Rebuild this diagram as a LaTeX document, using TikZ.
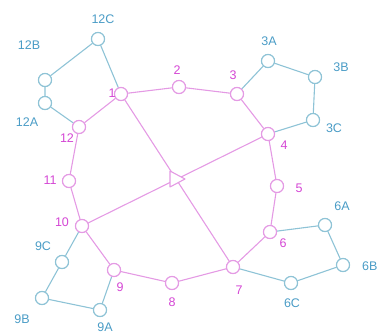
\documentclass[tikz,border=0pt]{standalone}
\usepackage{fontspec}
\setmainfont{Liberation Sans}
\definecolor{pinkline}{HTML}{E49AE4}
\definecolor{pinktext}{HTML}{D446D4}
\definecolor{blueline}{HTML}{8EC3D6}
\definecolor{bluetext}{HTML}{4A9CC6}
\tikzset{
  pn/.style={circle,draw=pinkline,fill=white,line width=1.1pt,minimum size=13pt,inner sep=0pt},
  bn/.style={circle,draw=blueline,fill=white,line width=1.1pt,minimum size=13pt,inner sep=0pt},
  pl/.style={text=pinktext,font=\fontsize{12.5}{12.5}\selectfont,inner sep=0pt},
  bl/.style={text=bluetext,font=\fontsize{12.5}{12.5}\selectfont,inner sep=0pt},
  pe/.style={draw=pinkline,line width=1.1pt},
  be/.style={draw=blueline,line width=1.1pt},
}
\begin{document}
\begin{tikzpicture}[x=1pt,y=-1pt]
\useasboundingbox (0,0) rectangle (378,335);
% pink nodes
\node[pn] (n1) at (121,94) {};
\node[pn] (n2) at (179,87) {};
\node[pn] (n3) at (237,94) {};
\node[pn] (n4) at (268,134) {};
\node[pn] (n5) at (277,186) {};
\node[pn] (n6) at (270,232) {};
\node[pn] (n7) at (233,267) {};
\node[pn] (n8) at (172,283) {};
\node[pn] (n9) at (114,270) {};
\node[pn] (n10) at (82,226) {};
\node[pn] (n11) at (69,181) {};
\node[pn] (n12) at (79,127) {};
% blue nodes
\node[bn] (b12A) at (45,103) {};
\node[bn] (b12B) at (45,80) {};
\node[bn] (b12C) at (98,39) {};
\node[bn] (b3A) at (268,61) {};
\node[bn] (b3B) at (315,77) {};
\node[bn] (b3C) at (313,120) {};
\node[bn] (b6A) at (325,225) {};
\node[bn] (b6B) at (343,265) {};
\node[bn] (b6C) at (291,283) {};
\node[bn] (b9C) at (62,262) {};
\node[bn] (b9B) at (42,298) {};
\node[bn] (b9A) at (100,310) {};
\coordinate (ctr) at (176,179);
% edges
\draw[pe] (n1) -- (n2) -- (n3) -- (n4) -- (n5) -- (n6) -- (n7) -- (n8) -- (n9) -- (n10) -- (n11) -- (n12) -- (n1);
\draw[pe] (n1) -- (n7);
\draw[pe] (n4) -- (n10);
\draw[be] (n12) -- (b12A) -- (b12B) -- (b12C) -- (n1);
\draw[be] (n3) -- (b3A) -- (b3B) -- (b3C) -- (n4);
\draw[be] (n6) -- (b6A) -- (b6B) -- (b6C) -- (n7);
\draw[be] (n10) -- (b9C) -- (b9B) -- (b9A) -- (n9);
% triangle
\draw[pe,fill=white,line join=round] ([shift={(-6,-8)}]ctr) -- ([shift={(9,0)}]ctr) -- ([shift={(-6,8)}]ctr) -- cycle;
% redraw nodes on top
\foreach \n in {n1,n2,n3,n4,n5,n6,n7,n8,n9,n10,n11,n12}{\node[pn] at (\n) {};}
\foreach \n in {b12A,b12B,b12C,b3A,b3B,b3C,b6A,b6B,b6C,b9C,b9B,b9A}{\node[bn] at (\n) {};}
% pink labels
\node[pl] (l1) at (112,93) {1};
\node[pl] (l2) at (177,70) {2};
\node[pl] (l3) at (233,75) {3};
\node[pl] (l4) at (284,145) {4};
\node[pl] (l5) at (299,188) {5};
\node[pl] (l6) at (283,243) {6};
\node[pl] (l7) at (239,290) {7};
\node[pl] (l8) at (172,302) {8};
\node[pl] (l9) at (120,287) {9};
\node[pl] (l10) at (62,222) {10};
\node[pl] (l11) at (50,180) {11};
\node[pl] (l12) at (67,138) {12};
% blue labels
\node[bl] (t12C) at (103,19) {12C};
\node[bl] (t12B) at (29,45) {12B};
\node[bl] (t12A) at (27,122) {12A};
\node[bl] (t3A) at (269,41) {3A};
\node[bl] (t3B) at (341,67) {3B};
\node[bl] (t3C) at (334,128) {3C};
\node[bl] (t6A) at (342,206) {6A};
\node[bl,anchor=west] (t6B) at (362,266) {6B};
\node[bl] (t6C) at (292,303) {6C};
\node[bl] (t9C) at (43,246) {9C};
\node[bl] (t9B) at (22,319) {9B};
\node[bl] (t9A) at (105,327) {9A};
\end{tikzpicture}
\end{document}
